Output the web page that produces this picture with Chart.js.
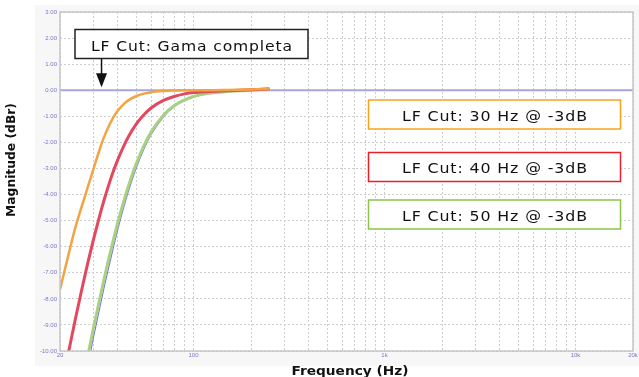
<!DOCTYPE html>
<html><head><meta charset="utf-8">
<script src="https://cdn.jsdelivr.net/npm/chart.js@4"></script>
<style>html,body{margin:0;padding:0;background:#fff}#wrap{width:639px;height:377px}</style>
</head><body><div id="wrap"><canvas id="c" width="639" height="377"></canvas></div>
<script>
// ---- data ----
const freqHz = [20,22,24,26,28,30,32,34,36,38,40,43,46,50,55,60,70,80,90,100,120,150,200,250];
const cut30 = [-7.65,-6.4,-5.3,-4.45,-3.7,-3.0,-2.35,-1.8,-1.38,-1.05,-0.8,-0.54,-0.37,-0.23,-0.13,-0.075,-0.03,-0.01,0,0,0,0.01,0.03,0.05];
const cut40 = [-11.68,-10.16,-8.82,-7.64,-6.6,-5.7,-4.91,-4.22,-3.63,-3.12,-2.69,-2.16,-1.74,-1.31,-0.94,-0.68,-0.38,-0.23,-0.14,-0.09,-0.05,-0.02,0.02,0.05];
const cut50 = [-15.69,-14.08,-12.64,-11.34,-10.16,-9.09,-8.13,-7.25,-6.47,-5.76,-5.12,-4.29,-3.59,-2.84,-2.12,-1.6,-0.94,-0.57,-0.37,-0.24,-0.12,-0.05,0,0.06];
const cut50ch2 = [-16.1,-14.5,-13.05,-11.75,-10.55,-9.45,-8.48,-7.58,-6.78,-6.05,-5.38,-4.52,-3.79,-3.0,-2.25,-1.7,-1.0,-0.61,-0.39,-0.26,-0.13,-0.055,-0.01,0.05];
const fullRangeHz = [20, 20000];
const fullRange = [0, 0];
const yTickValues = [3,2,1,0,-1,-2,-3,-4,-5,-6,-7,-8,-9,-10];
const xGridHz = [20,30,40,50,60,70,80,90,100,200,300,400,500,600,700,800,900,1000,2000,3000,4000,5000,6000,7000,8000,9000,10000,20000];
const xTickLabels = {20:'20',100:'100',1000:'1k',10000:'10k',20000:'20k'};
const seriesNames = ['LF Cut: 30 Hz @ -3dB','LF Cut: 40 Hz @ -3dB','LF Cut: 50 Hz @ -3dB'];
const fullRangeName = 'LF Cut: Gama completa';
const xTitle = 'Frequency (Hz)';
const yTitle = 'Magnitude (dBr)';

const pts = (xs, ys) => xs.map((x, i) => ({x, y: ys[i]}));

// draw text centred at (x, baseline y), fitted to a target width
function fitText(ctx, text, x, y, width, font, ls, color, rotate) {
  ctx.save();
  ctx.font = font;
  ctx.letterSpacing = ls + 'px';
  const w = ctx.measureText(text).width - ls;
  const k = width / w;
  ctx.translate(x, y);
  if (rotate) ctx.rotate(-Math.PI / 2);
  ctx.scale(k, 1);
  ctx.fillStyle = color;
  ctx.textAlign = 'left';
  ctx.textBaseline = 'alphabetic';
  ctx.fillText(text, -w / 2, 0);
  ctx.restore();
}

const deco = {
  id: 'deco',
  beforeDraw(chart) {
    const {ctx, chartArea: a} = chart;
    ctx.save();
    ctx.fillStyle = '#f7f7f8';
    ctx.fillRect(35, 5, 604, 361);
    ctx.fillStyle = '#ffffff';
    ctx.fillRect(a.left, a.top, a.right - a.left, a.bottom - a.top);
    ctx.restore();
  },
  afterDatasetsDraw(chart) {
    const {ctx, chartArea: a} = chart;
    ctx.save();
    ctx.strokeStyle = '#c6c6c6';
    ctx.lineWidth = 1.5;
    ctx.strokeRect(a.left, a.top, a.right - a.left, a.bottom - a.top);
    ctx.restore();
  },
  afterDraw(chart) {
    const {ctx} = chart;
    const xs = chart.scales.x, ys = chart.scales.y;
    const boxFont = '14.5px "DejaVu Sans"';
    // full-range annotation
    const b = {l: 75, t: 29.5, r: 308, b: 58.5};
    ctx.save();
    ctx.fillStyle = '#fff';
    ctx.fillRect(b.l, b.t, b.r - b.l, b.b - b.t);
    ctx.strokeStyle = '#222';
    ctx.lineWidth = 1.5;
    ctx.strokeRect(b.l, b.t, b.r - b.l, b.b - b.t);
    ctx.restore();
    fitText(ctx, fullRangeName, (b.l + b.r) / 2, 50.5, 201, boxFont, 0.8, '#111');
    // arrow
    const ax = xs.getPixelForValue(33), tip = ys.getPixelForValue(0) - 3;
    ctx.save();
    ctx.strokeStyle = '#111'; ctx.fillStyle = '#111'; ctx.lineWidth = 1.5;
    ctx.beginPath(); ctx.moveTo(ax, b.b); ctx.lineTo(ax, tip - 12); ctx.stroke();
    ctx.beginPath(); ctx.moveTo(ax - 5.5, tip - 14); ctx.lineTo(ax + 5.5, tip - 14); ctx.lineTo(ax, tip); ctx.closePath(); ctx.fill();
    ctx.restore();
    // series boxes
    const cols = ['#f7a21b', '#e8202a', '#8cc34a'];
    const tops = [100, 152.5, 200];
    tops.forEach((t, i) => {
      const l = 368.5, r = 620.5, h = 29;
      ctx.save();
      ctx.fillStyle = '#fff';
      ctx.fillRect(l, t, r - l, h);
      ctx.strokeStyle = cols[i];
      ctx.lineWidth = 1.5;
      ctx.strokeRect(l, t, r - l, h);
      ctx.restore();
      fitText(ctx, seriesNames[i], (l + r) / 2, t + h / 2 + 6, 185, boxFont, 0.8, '#111');
    });
    // axis titles
    fitText(ctx, xTitle, 350, 375, 117, 'bold 12px "DejaVu Sans"', 0, '#111');
    fitText(ctx, yTitle, 14.5, 160, 114, 'bold 12px "DejaVu Sans"', 0, '#111', true);
  }
};

new Chart(document.getElementById('c'), {
  type: 'line',
  data: {
    datasets: [
      {label: seriesNames[0], data: pts(freqHz, cut30), borderColor: '#f2a444', borderWidth: 2.5, order: 1},
      {label: seriesNames[1], data: pts(freqHz, cut40), borderColor: '#e2485e', borderWidth: 3, order: 2},
      {label: seriesNames[2], data: pts(freqHz, cut50), borderColor: '#a8d182', borderWidth: 3, order: 3},
      {label: seriesNames[2] + ' (R)', data: pts(freqHz, cut50ch2), borderColor: '#7c7cd0', borderWidth: 1.2, order: 4},
      {label: fullRangeName, data: pts(fullRangeHz, fullRange), borderColor: '#a6a6dc', borderWidth: 2, order: 5}
    ]
  },
  options: {
    responsive: false,
    animation: false,
    devicePixelRatio: 1,
    layout: {padding: {left: 0, right: 6, top: 12, bottom: 0}},
    elements: {point: {radius: 0}, line: {cubicInterpolationMode: 'monotone', fill: false}},
    datasets: {line: {clip: 0}},
    plugins: {legend: {display: false}, tooltip: {enabled: false}, title: {display: false}},
    scales: {
      x: {
        type: 'logarithmic', min: 20, max: 20000,
        afterBuildTicks: s => { s.ticks = xGridHz.map(v => ({value: v})); },
        afterFit: s => { s.height = 26; },
        ticks: {autoSkip: false, maxRotation: 0, padding: 1, color: '#7878c8', font: {size: 6, family: 'Arial'},
          callback: v => xTickLabels[v] || ''},
        grid: {color: '#cdcdcd', lineWidth: 1, drawTicks: false},
        border: {display: false, dash: [2, 2]}
      },
      y: {
        min: -10, max: 3,
        afterBuildTicks: s => { s.ticks = yTickValues.map(v => ({value: v})); },
        afterFit: s => { s.width = 60; },
        ticks: {padding: 3, color: '#7878c8', font: {size: 6, family: 'Arial'}, callback: v => Number(v).toFixed(2)},
        grid: {color: '#cdcdcd', lineWidth: 1, drawTicks: false},
        border: {display: false, dash: [2, 2]}
      }
    }
  },
  plugins: [deco]
});
</script>
</body></html>
